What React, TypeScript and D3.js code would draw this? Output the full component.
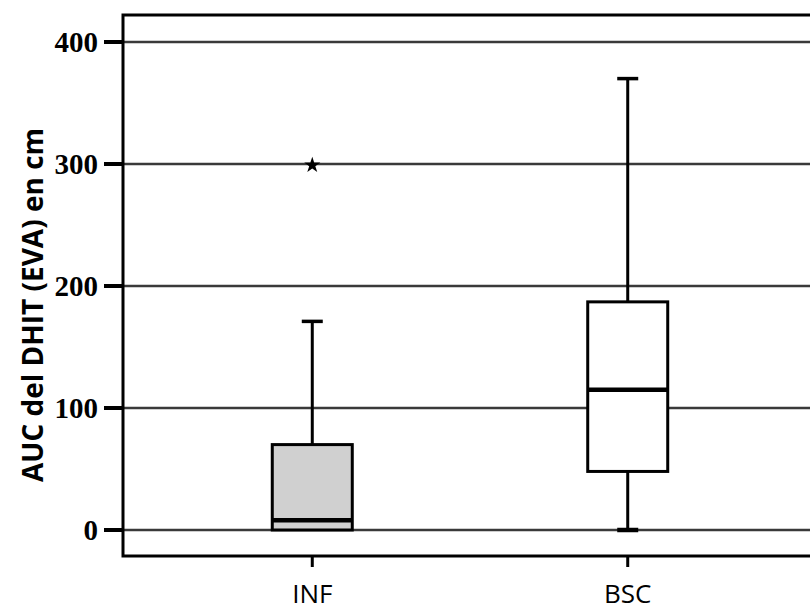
import React from "react";
import * as d3 from "d3";

const width = 810;
const height = 612;

// box summaries
const groups = ["INF", "BSC"];
const whiskerLow = [0, 0];
const quart1 = [0, 48];
const medians = [8, 115];
const quart3 = [70, 187];
const whiskerHigh = [171, 370];
const boxFills = ["#d0d0d0", "#ffffff"];
const outliers = [{ group: "INF", value: 299 }];
const yTicks = [0, 100, 200, 300, 400];

const frame = { left: 123, top: 15, right: 840, bottom: 556 };

const x = d3.scalePoint().domain(groups).range([123, 817]).padding(0.6);
const y = d3.scaleLinear().domain([0, 400]).range([530, 42]);

const boxW = 80;
const capW = 21;
const star = d3.symbol().type(d3.symbolStar).size(80);

const App = () => {
  return (
    <svg
      width={width}
      height={height}
      style={{ position: "absolute", left: 0, top: 0, background: "#fff" }}
    >
      {/* grid lines */}
      {yTicks.map((t) => (
        <line
          key={"g" + t}
          x1={frame.left}
          x2={frame.right}
          y1={y(t)}
          y2={y(t)}
          stroke="#3a3a3a"
          strokeWidth={2.6}
        />
      ))}
      {/* y ticks + labels */}
      {yTicks.map((t) => (
        <g key={"t" + t}>
          <line x1={104} x2={frame.left} y1={y(t)} y2={y(t)} stroke="#000" strokeWidth={4} />
          <text
            x={98}
            y={y(t)}
            dy="0.35em"
            textAnchor="end"
            fontFamily="'Liberation Serif', serif"
            fontWeight="bold"
            fontSize={29}
          >
            {t}
          </text>
        </g>
      ))}
      {/* boxes */}
      {groups.map((g, i) => {
        const cx = x(g) as number;
        return (
          <g key={g}>
            {whiskerHigh[i] > quart3[i] && (
              <>
                <line x1={cx} x2={cx} y1={y(quart3[i])} y2={y(whiskerHigh[i])} stroke="#000" strokeWidth={3} />
                <line
                  x1={cx - capW / 2}
                  x2={cx + capW / 2}
                  y1={y(whiskerHigh[i])}
                  y2={y(whiskerHigh[i])}
                  stroke="#000"
                  strokeWidth={3.5}
                />
              </>
            )}
            {whiskerLow[i] < quart1[i] && (
              <>
                <line x1={cx} x2={cx} y1={y(quart1[i])} y2={y(whiskerLow[i])} stroke="#000" strokeWidth={3} />
                <line
                  x1={cx - capW / 2}
                  x2={cx + capW / 2}
                  y1={y(whiskerLow[i])}
                  y2={y(whiskerLow[i])}
                  stroke="#000"
                  strokeWidth={4.5}
                />
              </>
            )}
            <rect
              x={cx - boxW / 2}
              width={boxW}
              y={y(quart3[i])}
              height={y(quart1[i]) - y(quart3[i])}
              fill={boxFills[i]}
              stroke="#000"
              strokeWidth={3}
            />
            <line
              x1={cx - boxW / 2}
              x2={cx + boxW / 2}
              y1={y(medians[i])}
              y2={y(medians[i])}
              stroke="#000"
              strokeWidth={4.5}
            />
          </g>
        );
      })}
      {/* outliers */}
      {outliers.map((o, i) => (
        <path
          key={"o" + i}
          d={star() as string}
          transform={`translate(${x(o.group)},${y(o.value)})`}
          fill="#000"
        />
      ))}
      {/* frame */}
      <rect
        x={frame.left}
        y={frame.top}
        width={frame.right - frame.left}
        height={frame.bottom - frame.top}
        fill="none"
        stroke="#000"
        strokeWidth={3}
      />
      {/* x ticks + labels */}
      {groups.map((g) => (
        <g key={"x" + g}>
          <line
            x1={x(g)}
            x2={x(g)}
            y1={frame.bottom}
            y2={frame.bottom + 11}
            stroke="#000"
            strokeWidth={3}
          />
          <text
            x={x(g)}
            y={603}
            textAnchor="middle"
            fontFamily="'Open Sans', sans-serif"
            fontSize={26}
          >
            {g}
          </text>
        </g>
      ))}
      {/* y axis title */}
      <text
        transform="translate(43,305) rotate(-90)"
        textAnchor="middle"
        fontFamily="'Open Sans', sans-serif"
        fontWeight="bold"
        fontSize={28}
      >
        AUC del DHIT (EVA) en cm
      </text>
    </svg>
  );
};

export default App;
